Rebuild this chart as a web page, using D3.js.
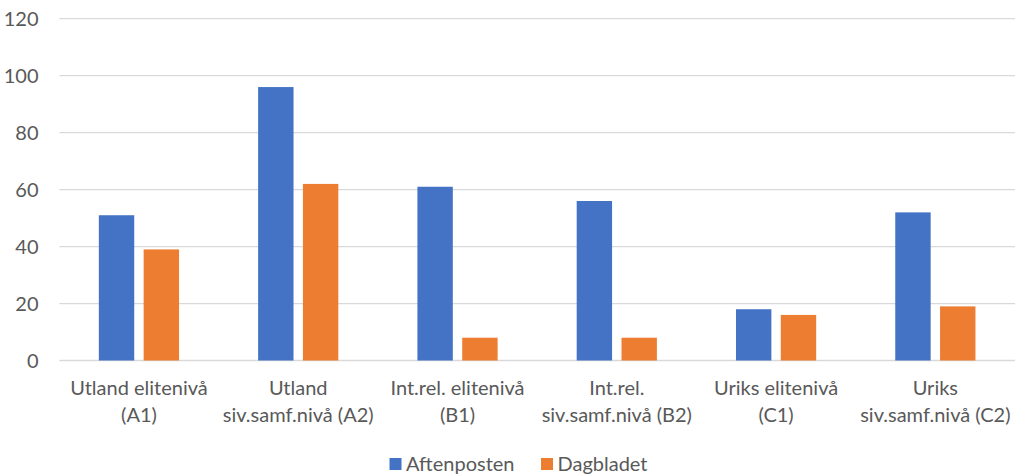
<!DOCTYPE html>
<html>
<head>
<meta charset="utf-8">
<script src="https://cdn.jsdelivr.net/npm/d3@7"></script>
<style>
  body { margin: 0; background: #fff; }
  text { font-family: Lato, "Open Sans", sans-serif; fill: #595959; }
</style>
</head>
<body>
<script>
const categories = [
    ["Utland elitenivå", "(A1)"],
    ["Utland", "siv.samf.nivå (A2)"],
    ["Int.rel. elitenivå", "(B1)"],
    ["Int.rel.", "siv.samf.nivå (B2)"],
    ["Uriks elitenivå", "(C1)"],
    ["Uriks", "siv.samf.nivå (C2)"]
];
const seriesNames = ["Aftenposten", "Dagbladet"];
const aftenposten = [51, 96, 61, 56, 18, 52];
const dagbladet = [39, 62, 8, 8, 16, 19];
const yTicks = [0, 20, 40, 60, 80, 100, 120];
const colors = ["#4472c4", "#ed7d31"];

const width = 1019;
const height = 474;
const margin = { top: 18.7, right: 4, bottom: 113.5, left: 59.3 };
const fontSize = 20;

const svg = d3.select(document.body).append("svg")
    .attr("width", width)
    .attr("height", height);

const x = d3.scaleBand()
    .domain(d3.range(categories.length))
    .range([margin.left, width - margin.right]);

const x1 = d3.scaleBand()
    .domain([0, 1])
    .range([x.bandwidth() / 2 - 40.1, x.bandwidth() / 2 + 40.1])
    .paddingInner(0.21);

const y = d3.scaleLinear()
    .domain([0, 120])
    .range([height - margin.bottom, margin.top]);

// gridlines
svg.append("g")
    .selectAll("line")
    .data(yTicks)
    .join("line")
    .attr("x1", margin.left)
    .attr("x2", width - margin.right)
    .attr("y1", d => y(d))
    .attr("y2", d => y(d))
    .attr("stroke", "#d9d9d9")
    .attr("stroke-width", 1.3);

// y labels
svg.append("g")
    .selectAll("text")
    .data(yTicks)
    .join("text")
    .attr("x", 38.5)
    .attr("y", d => y(d))
    .attr("dy", "0.35em")
    .attr("text-anchor", "end")
    .attr("font-size", fontSize)
    .text(d => d);

// bars
const series = [aftenposten, dagbladet];
const groups = svg.append("g")
    .selectAll("g")
    .data(categories.map((c, i) => i))
    .join("g")
    .attr("transform", i => `translate(${x(i)},0)`);

groups.selectAll("rect")
    .data(i => series.map((s, k) => ({ k, v: s[i] })))
    .join("rect")
    .attr("x", d => x1(d.k))
    .attr("width", x1.bandwidth())
    .attr("y", d => y(d.v))
    .attr("height", d => y(0) - y(d.v))
    .attr("fill", d => colors[d.k]);

// category labels
const labels = svg.append("g")
    .selectAll("text")
    .data(categories)
    .join("text")
    .attr("text-anchor", "middle")
    .attr("font-size", fontSize)
    .attr("transform", (d, i) => `translate(${x(i) + x.bandwidth() / 2},395)`);

labels.selectAll("tspan")
    .data(d => d)
    .join("tspan")
    .attr("x", 0)
    .attr("y", (d, i) => i * 27)
    .text(d => d);

// legend
const legendX = [389.5, 541];
const legend = svg.append("g")
    .selectAll("g")
    .data(seriesNames)
    .join("g")
    .attr("transform", (d, i) => `translate(${legendX[i]},458)`);

legend.append("rect")
    .attr("width", 12)
    .attr("height", 12)
    .attr("fill", (d, i) => colors[i]);

legend.append("text")
    .attr("x", 16.5)
    .attr("y", 6)
    .attr("dy", "0.35em")
    .attr("font-size", fontSize)
    .text(d => d);
</script>
</body>
</html>
